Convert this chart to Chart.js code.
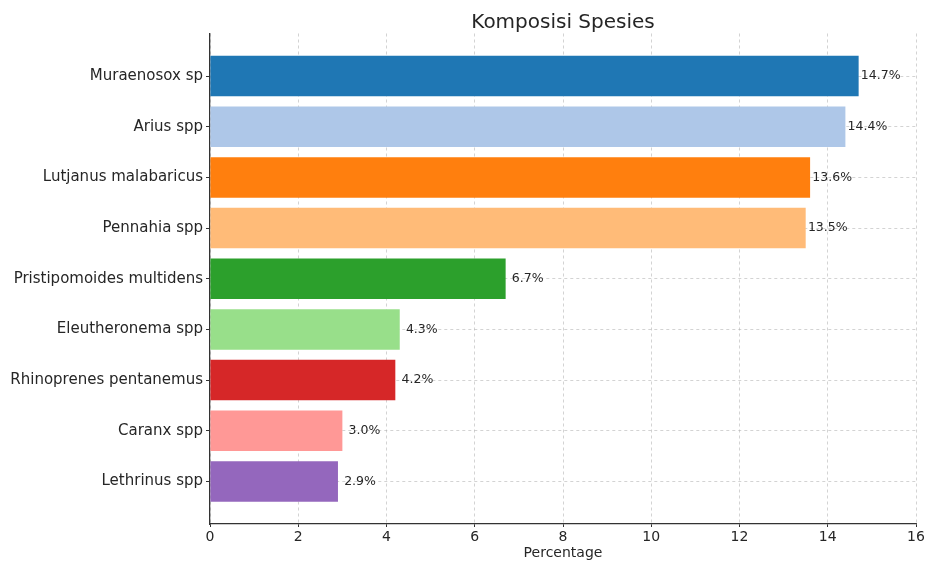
<!DOCTYPE html>
<html>
<head>
<meta charset="utf-8">
<script src="https://cdn.jsdelivr.net/npm/chart.js@4/dist/chart.umd.min.js"></script>
<style>
  html, body { margin: 0; padding: 0; background: #ffffff; }
  #wrap { width: 928px; height: 567px; }
</style>
</head>
<body>
<div id="wrap"><canvas id="chart" width="928" height="567"></canvas></div>
<script>
// Species composition (percent of catch)
const species = [
  'Muraenosox sp',
  'Arius spp',
  'Lutjanus malabaricus',
  'Pennahia spp',
  'Pristipomoides multidens',
  'Eleutheronema spp',
  'Rhinoprenes pentanemus',
  'Caranx spp',
  'Lethrinus spp'
];
const percentages = [14.7, 14.4, 13.6, 13.5, 6.7, 4.3, 4.2, 3.0, 2.9];
const barColors = ['#1f77b4', '#aec7e8', '#ff7f0e', '#ffbb78', '#2ca02c',
                   '#98df8a', '#d62728', '#ff9896', '#9467bd'];
const xTicks = [0, 2, 4, 6, 8, 10, 12, 14, 16];

const chartTitle = 'Komposisi Spesies';
const xTitle = 'Percentage';

const FONT = "'DejaVu Sans', 'Liberation Sans', sans-serif";
const TEXT = '#262626';
const GRID = 'rgba(176,176,176,0.7)';

// value labels centred half a unit past each bar's end, plus the title over the plot
const annotate = {
  id: 'annotate',
  afterDatasetsDraw(chart) {
    const ctx = chart.ctx;
    const meta = chart.getDatasetMeta(0);
    const xScale = chart.scales.x;
    ctx.save();
    ctx.font = '12.5px ' + FONT;
    ctx.fillStyle = TEXT;
    ctx.textAlign = 'center';
    ctx.textBaseline = 'middle';
    meta.data.forEach((bar, i) => {
      const v = percentages[i];
      ctx.fillText(v.toFixed(1) + '%', xScale.getPixelForValue(v + 0.5), bar.y);
    });
    ctx.restore();
  },
  afterDraw(chart) {
    const ctx = chart.ctx;
    const area = chart.chartArea;
    ctx.save();
    ctx.font = '20px ' + FONT;
    ctx.fillStyle = TEXT;
    ctx.textAlign = 'center';
    ctx.textBaseline = 'alphabetic';
    ctx.fillText(chartTitle, (area.left + area.right) / 2, 28);
    ctx.restore();
  }
};

new Chart(document.getElementById('chart'), {
  type: 'bar',
  data: {
    datasets: [{
      data: percentages.map((v, i) => ({ x: v, y: i })),
      backgroundColor: barColors,
      borderWidth: 0,
      categoryPercentage: 1,
      barPercentage: 0.8
    }]
  },
  options: {
    indexAxis: 'y',
    responsive: false,
    animation: false,
    layout: { padding: { top: 33.5, right: 12, left: 0, bottom: 0 } },
    plugins: {
      legend: { display: false },
      tooltip: { enabled: false },
      title: { display: false }
    },
    scales: {
      x: {
        type: 'linear',
        position: 'bottom',
        min: 0,
        max: 16,
        bounds: 'data',
        z: 1,
        afterBuildTicks(scale) { scale.ticks = xTicks.map(v => ({ value: v })); },
        afterFit(scale) { scale.height = 43; },
        ticks: {
          font: { family: FONT, size: 14 },
          color: TEXT,
          padding: 2,
          maxRotation: 0
        },
        grid: {
          color: GRID,
          lineWidth: 0.8,
          drawTicks: true,
          tickLength: 3,
          tickColor: '#333333',
          tickWidth: 1,
          tickBorderDash: []
        },
        border: { display: true, color: '#333333', width: 1.3, dash: [3, 3] },
        title: {
          display: true,
          text: xTitle,
          font: { family: FONT, size: 14 },
          color: TEXT,
          padding: { top: 0, bottom: 5.5 }
        }
      },
      y: {
        type: 'linear',
        position: 'left',
        reverse: true,
        min: -0.84,
        max: 8.84,
        bounds: 'data',
        offset: false,
        z: 1,
        afterBuildTicks(scale) { scale.ticks = species.map((_, i) => ({ value: i })); },
        afterFit(scale) { scale.width = 210; },
        ticks: {
          font: { family: FONT, size: 15 },
          color: TEXT,
          padding: 3,
          callback: (v) => species[v] ?? ''
        },
        grid: {
          offset: false,
          color: GRID,
          lineWidth: 0.8,
          drawTicks: true,
          tickLength: 4,
          tickColor: '#333333',
          tickWidth: 1,
          tickBorderDash: []
        },
        border: { display: true, color: '#333333', width: 1.3, dash: [3, 3] }
      }
    }
  },
  plugins: [annotate]
});
</script>
</body>
</html>
